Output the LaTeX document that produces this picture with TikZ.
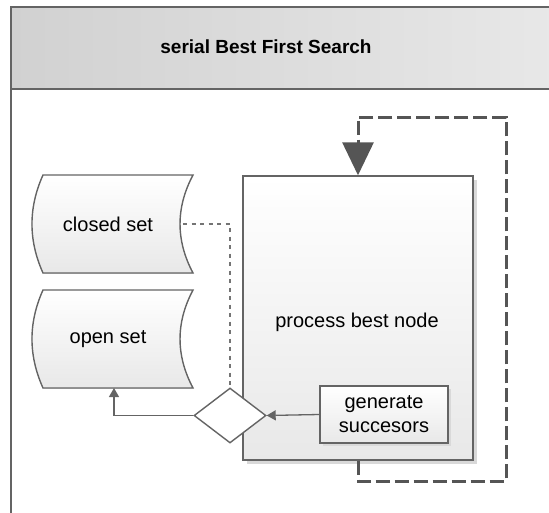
\documentclass[tikz,border=0pt]{standalone}
\usepackage{fontspec}
\setmainfont{Liberation Sans}
\usetikzlibrary{arrows.meta,shapes.geometric}
\definecolor{lineg}{HTML}{646464}
\definecolor{darkg}{HTML}{555555}
\definecolor{shadowg}{HTML}{D9D9D9}
\tikzset{
  frame/.style={draw=lineg,line width=1.5pt},
  shapefill/.style={top color=white,bottom color=black!9},
  txt/.style={font=\fontsize{20}{24}\selectfont,align=center,inner sep=0pt},
  dotline/.style={draw=lineg!90,line width=1.6pt,dash pattern=on 4pt off 4.5pt},
  loopline/.style={draw=darkg,line width=3pt,dash pattern=on 14pt off 5pt},
  smallarrow/.style={draw=lineg,line width=1.3pt,-{Triangle[length=9pt,width=10pt]}},
}
\begin{document}
\begin{tikzpicture}[x=1pt,y=-1pt]
\useasboundingbox (0,0) rectangle (549,512);
\begin{scope}
\clip (0,0) rectangle (549,512);
% outer frame and title band
\shade[left color=black!18,right color=black!9] (11,7) rectangle (560,89);
\draw[frame] (11,530) -- (11,7) -- (570,7);
\draw[frame] (11,89) -- (570,89);
\end{scope}
\node[font=\fontsize{19}{23}\selectfont\bfseries,inner sep=0pt] (title) at (266,47) {serial Best First Search};

% closed set
\fill[shapefill,draw=lineg,line width=1.4pt] (43,175) -- (193,175) .. controls (175.7,207.7) and (175.7,240.3) .. (193,273) -- (43,273) .. controls (28.3,240.3) and (28.3,207.7) .. (43,175) -- cycle;
\node[txt] (closed) at (108,224) {closed set};
\coordinate (closedR) at (183,224);
% open set
\fill[shapefill,draw=lineg,line width=1.4pt] (43,290) -- (193,290) .. controls (175.7,322.7) and (175.7,355.3) .. (193,388) -- (43,388) .. controls (28.3,355.3) and (28.3,322.7) .. (43,290) -- cycle;
\node[txt] (open) at (108,339) {open set};
\coordinate (openB) at (114,388);

% process box
\fill[shadowg] (247,180) rectangle (477,464);
\node[draw=lineg,line width=1.4pt,shapefill,minimum width=230pt,minimum height=284pt,inner sep=0pt] (proc) at (358,318) {};
\node[txt] (proctxt) at (357,322) {process best node};

% generate succesors
\fill[shadowg] (323,389) rectangle (451,446);
\node[draw=lineg,line width=1.4pt,shapefill,minimum width=128pt,minimum height=57pt,inner sep=0pt,txt] (gen) at (384,414.5) {generate\\succesors};

% diamond
\node[diamond,draw=lineg,line width=1.4pt,fill=white,minimum width=72pt,minimum height=55pt,inner sep=0pt,aspect=1.3] (dec) at (230,415.5) {};

% connectors
\draw[smallarrow] (gen.west) -- (dec.east);
\draw[smallarrow] (dec.west) -| (openB);
\draw[dotline] (closedR) -| (dec.north);

% loop
\coordinate (lb) at (358,481);
\coordinate (rb) at (506,481);
\coordinate (rt) at (506,117);
\coordinate (lt) at (358,117);
\draw[loopline] (proc.south) -- (lb) -- (rb) -- (rt) -- (lt) -- (358,150);
\draw[draw=darkg,line width=3pt,-{Triangle[length=33pt,width=31pt]}] (358,140) -- (proc.north);
\end{tikzpicture}
\end{document}
